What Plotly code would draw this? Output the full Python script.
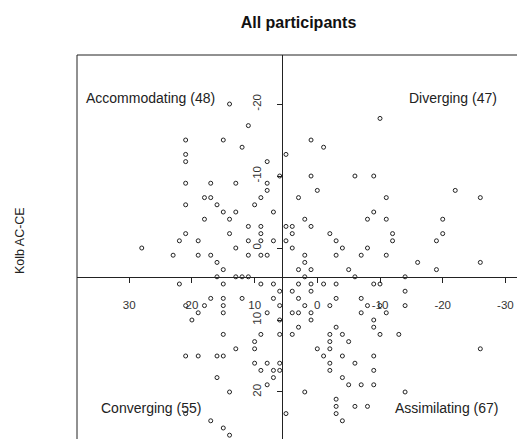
import plotly.graph_objects as go

# Kolb AE-RO (horizontal, reversed) and Kolb AC-CE (vertical, reversed)
kolb_ae_ro = [
    14, -10, 11, 21, 15, 1, 12, -1, 21, 5, 21, 8,
    6, 1, -6, -9, 21, 17, 13, 8, 8, 0, -22,
    18, 17, 9, 3, -11, -26, 21, 16, 10, 15, 13, 7, -9,
    18, 14, 2, -8, -11, -20, 11, 9, 5, 4, 1,
    21, 14, 9, 4, -2, -12, -20, 22, 19, 11, 9, 7, 5, -3, -12, -19,
    28, 13, 4, -4, -8, 23, 19, 17, 11, 9, 8, 2, -3, -7, -11,
    16, 2, -16, -26, 15, 3, 1, -5, -19, 16, 13, 12, 11, 2, -6, -14,
    22, 15, 9, 7, 3, 1, -1, -3, -9, -10,
    6, 4, 1, -14,
    17, 15, 12, 7, 3, -3, -7,
    21, 18, 15, 6, 2, -2, -8, -10, -14,
    19, 15, 8, 4, 3, 1, -7, -11,
    20, 6, 1, -9,
    3, -3, -9,
    15, 9, 6, 4, -2, -4, -10, -13,
    10, -2, -5,
    13, 10, 0, -2, -26,
    21, 19, 16, 15, -1, -4, -9,
    10, 8, 6, -2, -6,
    9, 7, 6, -2, -9,
    16, 7, -4,
    8, -5, -7, -9,
    14, 2, -14,
    -3,
    -3, -6, -8,
    21, 5, -3,
    17, -4,
    15,
    14,
]
kolb_ac_ce = [
    -20, -18, -17, -15, -15, -15, -14, -14, -13, -13, -12, -12,
    -10, -10, -10, -10, -9, -9, -9, -9, -8, -8, -8,
    -7, -7, -7, -7, -7, -7, -6, -6, -6, -5, -5, -5, -5,
    -4, -4, -4, -4, -4, -4, -3, -3, -3, -3, -3,
    -2, -2, -2, -2, -2, -2, -2, -1, -1, -1, -1, -1, -1, -1, -1, -1,
    0, 0, 0, 0, 0, 1, 1, 1, 1, 1, 1, 1, 1, 1, 1,
    2, 2, 2, 2, 3, 3, 3, 3, 3, 4, 4, 4, 4, 4, 4, 4,
    5, 5, 5, 5, 5, 5, 5, 5, 5, 5,
    6, 6, 6, 6,
    7, 7, 7, 7, 7, 7, 7,
    8, 8, 8, 8, 8, 8, 8, 8, 8,
    9, 9, 9, 9, 9, 9, 9, 9,
    10, 10, 10, 10,
    11, 11, 11,
    12, 12, 12, 12, 12, 12, 12, 12,
    13, 13, 13,
    14, 14, 14, 14, 14,
    15, 15, 15, 15, 15, 15, 15,
    16, 16, 16, 16, 16,
    17, 17, 17, 17, 17,
    18, 18, 18,
    19, 19, 19, 19,
    20, 20, 20,
    21,
    22, 22, 22,
    23, 23, 23,
    24, 24,
    25,
    26,
]

x_ticks = [30, 20, 10, 0, -10, -20, -30]
y_ticks = [-20, -10, 0, 10, 20]
x_cut = 5.6
y_cut = 4
quadrant_labels = ["Accommodating (48)", "Diverging (47)", "Converging (55)", "Assimilating (67)"]
title_text = "All participants"
y_title = "Kolb AC-CE"

W, H = 517, 439
ML, MT = 77, 55
x_range = [38.33, -31.85]
y_range = [26.53, -26.81]

FONT = "Liberation Sans, Arial, sans-serif"
INK = "#222222"

xpos_frac = (x_range[0] - x_cut) / (x_range[0] - x_range[1])
ypos_frac = (y_range[0] - y_cut) / (y_range[0] - y_range[1])

fig = go.Figure()
fig.add_trace(go.Scatter(
    x=kolb_ae_ro, y=kolb_ac_ce, mode="markers",
    marker=dict(symbol="circle-open", size=4, color=INK, line=dict(width=1, color=INK)),
    hoverinfo="skip", showlegend=False, cliponaxis=False,
))

def px_to_paper(px, py):
    return (px - ML) / (W - ML), (H - py) / (H - MT)

annos = []
ax_, ay_ = px_to_paper(84, 98)
annos.append(dict(x=ax_, y=ay_, text=quadrant_labels[0], xanchor="left"))
ax_, ay_ = px_to_paper(498.5, 98)
annos.append(dict(x=ax_, y=ay_, text=quadrant_labels[1], xanchor="right"))
ax_, ay_ = px_to_paper(99, 408)
annos.append(dict(x=ax_, y=ay_, text=quadrant_labels[2], xanchor="left"))
ax_, ay_ = px_to_paper(393, 408)
annos.append(dict(x=ax_, y=ay_, text=quadrant_labels[3], xanchor="left"))
for a in annos:
    a.update(xref="paper", yref="paper", yanchor="middle", showarrow=False,
             font=dict(family=FONT, size=14, color=INK))
tx, ty = px_to_paper(20, 241)
annos.append(dict(x=tx, y=ty, xref="paper", yref="paper", text=y_title, textangle=-90,
                  showarrow=False, xanchor="center", yanchor="middle",
                  font=dict(family=FONT, size=12.5, color=INK)))

fig.update_layout(
    width=W, height=H,
    margin=dict(l=ML, r=0, t=MT, b=0, pad=0),
    paper_bgcolor="white", plot_bgcolor="white",
    hovermode=False, dragmode=False,
    title=dict(text="<b>" + title_text + "</b>", x=298.5 / W, xref="container", xanchor="center",
               y=1 - 22.7 / H, yref="container", yanchor="middle",
               font=dict(family=FONT, size=16, color="#111111")),
    xaxis=dict(range=x_range, anchor="free", position=ypos_frac, showgrid=False, zeroline=False,
               showline=True, linecolor=INK, linewidth=1, fixedrange=True,
               tickmode="array", tickvals=x_ticks, ticktext=[str(v) for v in x_ticks],
               ticks="outside", ticklen=5, tickwidth=1, tickcolor=INK,
               ticklabelstandoff=12,
               tickfont=dict(family=FONT, size=11.5, color="#333333")),
    yaxis=dict(range=y_range, anchor="free", position=xpos_frac, showgrid=False, zeroline=False,
               showline=True, linecolor=INK, linewidth=1, fixedrange=True,
               tickmode="array", tickvals=y_ticks, ticktext=[str(v) for v in y_ticks],
               ticks="outside", ticklen=5, tickwidth=1, tickcolor=INK, tickangle=-90,
               ticklabelstandoff=12,
               tickfont=dict(family=FONT, size=11.5, color="#333333")),
    shapes=[
        dict(type="line", xref="paper", yref="paper", x0=0, x1=0, y0=0, y1=1,
             line=dict(color=INK, width=1)),
        dict(type="line", xref="paper", yref="paper", x0=0, x1=1, y0=1, y1=1,
             line=dict(color=INK, width=1)),
    ],
    annotations=annos,
)

fig.write_html(
    "out.html",
    config={"displayModeBar": False, "staticPlot": True},
    post_script="document.body.style.margin='0';document.body.style.padding='0';"
                "document.body.style.overflow='hidden';",
)
